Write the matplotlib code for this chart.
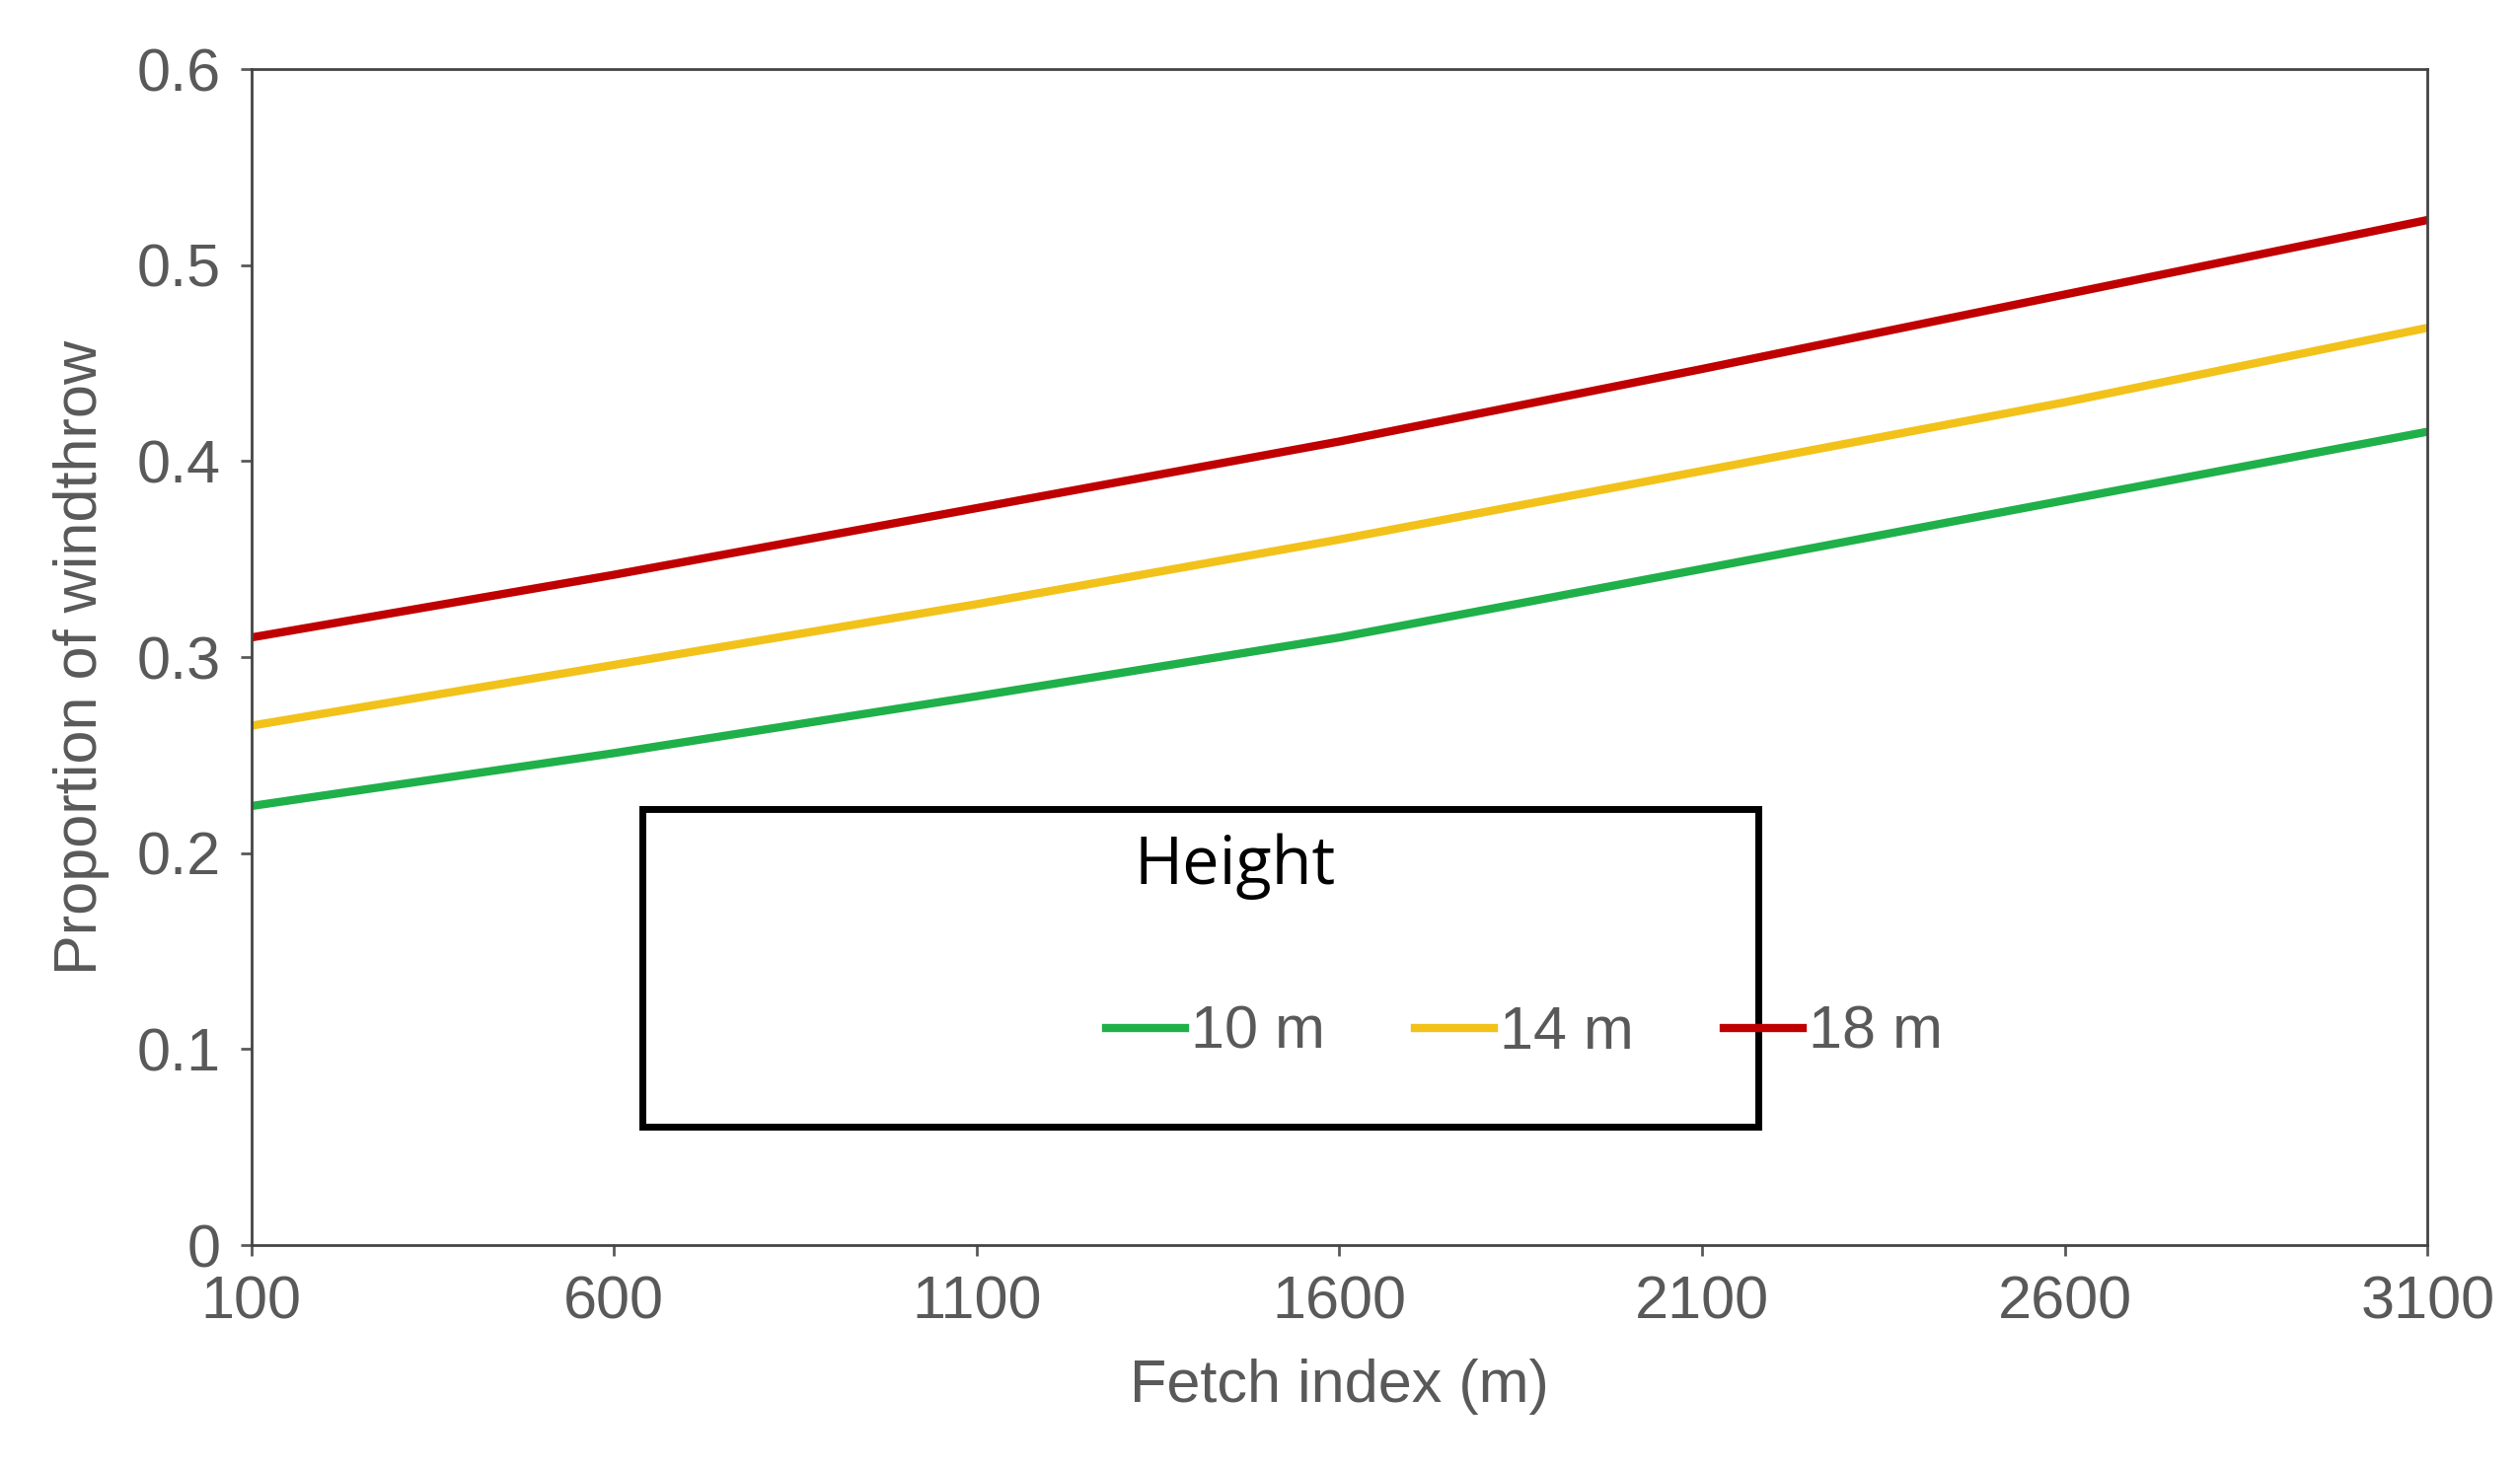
import matplotlib
matplotlib.use("Agg")
import matplotlib.pyplot as plt
from matplotlib.patches import Rectangle

fetch = [100, 600, 1100, 1600, 2100, 2600, 3100]
h10 = [0.224, 0.251, 0.280, 0.310, 0.345, 0.380, 0.415]
h14 = [0.265, 0.296, 0.327, 0.360, 0.395, 0.430, 0.468]
h18 = [0.310, 0.342, 0.376, 0.410, 0.447, 0.485, 0.523]
labels = ["10 m", "14 m", "18 m"]
colors = ["#1fb04a", "#f2c21a", "#c00000"]

plt.rcParams['font.family'] = ['Liberation Sans', 'DejaVu Sans']
fig = plt.figure(figsize=(25.54, 14.9), dpi=100)
ax = fig.add_axes([0.0997, 0.153, 0.8636, 0.800])
for y, lab, c in zip([h10, h14, h18], labels, colors):
    ax.plot(fetch, y, color=c, lw=6, label=lab)
ax.set_xlim(100, 3100)
ax.set_ylim(0, 0.6)
ax.set_xticks(fetch)
ax.set_yticks([0, 0.1, 0.2, 0.3, 0.4, 0.5, 0.6])
ax.set_yticklabels(["0", "0.1", "0.2", "0.3", "0.4", "0.5", "0.6"])
grey = "#595959"
ax.tick_params(labelsize=44, colors=grey, length=8, width=2, pad=14)
for s in ax.spines.values():
    s.set_color("#444444"); s.set_linewidth(2)
ax.set_xlabel("Fetch index (m)", fontsize=44, color=grey, labelpad=20)
ax.set_ylabel("Proportion of windthrow", fontsize=44, color=grey, labelpad=20)

# box
ax.add_patch(Rectangle((0.1795, 0.101), 0.513, 0.270, transform=ax.transAxes,
                       fill=False, ec="black", lw=5, zorder=5, clip_on=False))
ax.text(0.452, 0.322, "Height", transform=ax.transAxes, fontsize=48,
        family=['Open Sans', 'DejaVu Sans'], ha="center", va="center")
leg = ax.legend(loc="center", bbox_to_anchor=(0.585, 0.18), ncol=3, frameon=False,
                fontsize=44, handlelength=1.3, handletextpad=0.1, columnspacing=1.5)
for t in leg.get_texts():
    t.set_color(grey)
fig.savefig("out.png", dpi=100)
